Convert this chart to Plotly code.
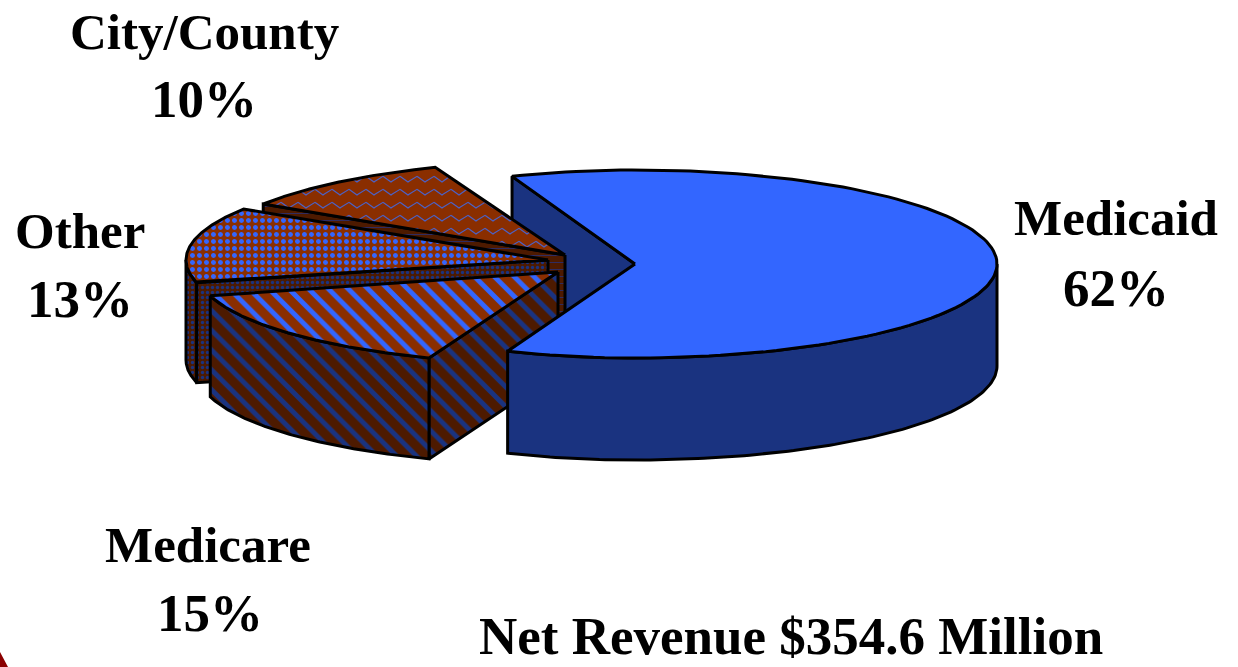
import numpy as np
import plotly.graph_objects as go

# ---- data ----
categories = ["Medicaid", "Medicare", "Other", "City/County"]
shares = [62, 15, 13, 10]
percent_labels = ["62%", "15%", "13%", "10%"]
caption = "Net Revenue $354.6 Million"

# ---- drawing configuration ----
W, H = 1238, 667
START = 111.2            # ellipse angle at which the first slice starts, going clockwise
NAME_FONT = dict(family="Liberation Serif", size=51, color="black")
BIG_FONT = dict(family="Liberation Serif", size=53, color="black")
BLUE, DARKBLUE = "#3366ff", "#1a3380"
BROWN, DARKBROWN = "#8a2e00", "#4d1a00"
OUT = "black"
LW = 3
# apex x, apex y, rx (left side), rx (right side), ry, depth
GEOM = {
    "Medicaid": (635, 264, 340, 362, 94, 102),
    "Medicare": (558, 272, 360, 360, 92, 101),
    "Other": (548, 260, 362, 362, 94, 100),
    "City/County": (565, 255, 359, 359, 94, 100),
}
ROTATE = {"Medicare": 1.0}   # small drawing nudge, degrees
# label centre positions: name line and percent line
LABEL_POS = {
    "Medicaid": ((1116, 218), (1116, 288)),
    "Medicare": ((208, 545), (210, 613)),
    "Other": ((80, 231), (80, 299)),
    "City/County": ((204, 32), (204, 99)),
}

# slice angles derived from the values
total = sum(shares)
angles = {}
a = START
for c, s in zip(categories, shares):
    nudge = ROTATE.get(c, 0.0)
    angles[c] = (a + nudge, a - 360 * s / total + nudge)
    a -= 360 * s / total


def rim(cat, t_from, t_to, n=120, dy=0):
    ax, ay, rl, rr, ry, _ = GEOM[cat]
    t = np.radians(np.linspace(t_from, t_to, n))
    c = np.cos(t)
    return ax + c * np.where(c < 0, rl, rr), ay - ry * np.sin(t) + dy


def top_face(cat):
    ax, ay = GEOM[cat][:2]
    t0, t1 = angles[cat]
    x, y = rim(cat, t0, t1)
    return np.r_[ax, x, ax], np.r_[ay, y, ay]


def cut_wall(cat, t):
    ax, ay, *_, d = GEOM[cat]
    x, y = rim(cat, t, t, 1)
    return (np.r_[ax, x[0], x[0], ax, ax],
            np.r_[ay, y[0], y[0] + d, ay + d, ay])


def outer_wall(cat, t_from, t_to):
    d = GEOM[cat][5]
    x, y = rim(cat, t_from, t_to)
    return np.r_[x, x[::-1], x[0]], np.r_[y, (y + d)[::-1], y[0]]


fig = go.Figure()


def poly(xy, fill=None, pattern=None, line=True):
    x, y = xy
    kw = dict(x=x, y=y, mode="lines", hoverinfo="skip", showlegend=False,
              line=dict(color=OUT if line else "rgba(0,0,0,0)", width=LW if line else 0))
    if fill:
        kw.update(fill="toself", fillcolor=fill)
    if pattern:
        kw.update(fill="toself", fillpattern=pattern)
    fig.add_trace(go.Scatter(**kw))


def hatch(shape, fg, bg, size, solidity):
    return dict(shape=shape, fgcolor=fg, bgcolor=bg, size=size, solidity=solidity, fillmode="replace")


def wave_over(xy, color):
    """Zig-zag texture clipped to a polygon (Plotly has no such pattern)."""
    px, py = xy
    xs, ys = [], []
    for row in np.arange(150, 270, 13.0):
        gx = np.arange(200, 600, 1.0)
        phase = (gx / 17.0) % 1
        gy = row + 6 * np.abs(2 * phase - 1)
        inside = np.zeros(gx.size, bool)
        for i in range(len(px) - 1):
            cond = (py[i] > gy) != (py[i + 1] > gy)
            with np.errstate(divide="ignore", invalid="ignore"):
                xc = px[i] + (gy - py[i]) * (px[i + 1] - px[i]) / (py[i + 1] - py[i])
            inside ^= cond & (gx < xc)
        xs += list(np.where(inside, gx, np.nan)) + [np.nan]
        ys += list(np.where(inside, gy, np.nan)) + [np.nan]
    fig.add_trace(go.Scatter(x=xs, y=ys, mode="lines", hoverinfo="skip", showlegend=False,
                             line=dict(color=color, width=1.2)))


m0, m1 = angles["Medicaid"]
# hidden cut wall of the large slice, behind everything else
poly(cut_wall("Medicaid", m0), fill=DARKBLUE)

# City/County
c0, c1 = angles["City/County"]
poly(cut_wall("City/County", c0), pattern=hatch("-", "#24338a", DARKBROWN, 7, 0.1))
top = top_face("City/County")
poly(top, fill=BROWN, line=False)
wave_over(top, "#4a62c8")
poly(top)

# Other
o0, o1 = angles["Other"]
poly(outer_wall("Other", 180, o0 % 360),
     pattern=hatch(".", DARKBLUE, DARKBROWN, 5, 0.35))
poly(cut_wall("Other", o0), pattern=hatch(".", DARKBLUE, DARKBROWN, 5, 0.35))
poly(top_face("Other"), pattern=hatch(".", BLUE, BROWN, 7, 0.4))

# Medicare
r0, r1 = angles["Medicare"]
poly(cut_wall("Medicare", r0), pattern=hatch("\\", DARKBLUE, DARKBROWN, 14, 0.35))
poly(outer_wall("Medicare", r1, r0), pattern=hatch("\\", DARKBLUE, DARKBROWN, 14, 0.35))
poly(top_face("Medicare"), pattern=hatch("\\", BLUE, BROWN, 14, 0.35))

# Medicaid, in front
poly(outer_wall("Medicaid", 0, m1), fill=DARKBLUE)
poly(top_face("Medicaid"), fill=BLUE)

annotations = []
for cat, pct in zip(categories, percent_labels):
    (nx, ny), (px, py) = LABEL_POS[cat]
    annotations.append(dict(x=nx, y=ny, text=f"<b>{cat}</b>", showarrow=False, font=NAME_FONT,
                            xanchor="center", yanchor="middle"))
    annotations.append(dict(x=px, y=py, text=f"<b>{pct}</b>", showarrow=False, font=BIG_FONT,
                            xanchor="center", yanchor="middle"))
annotations.append(dict(x=791, y=636, text=f"<b>{caption}</b>", showarrow=False, font=BIG_FONT,
                        xanchor="center", yanchor="middle"))

fig.update_layout(
    width=W, height=H, autosize=False,
    margin=dict(l=0, r=0, t=0, b=0),
    paper_bgcolor="white", plot_bgcolor="white",
    xaxis=dict(range=[0, W], visible=False, fixedrange=True),
    yaxis=dict(range=[H, 0], visible=False, fixedrange=True),
    annotations=annotations,
    shapes=[dict(type="path", path="M 0 652 L 8 667 L 0 667 Z",
                 fillcolor="#8b0000", line=dict(width=0), layer="above")],
)
fig.write_html("out.html", config=dict(displayModeBar=False),
               post_script="document.body.style.margin='0';document.body.style.overflow='hidden';")
